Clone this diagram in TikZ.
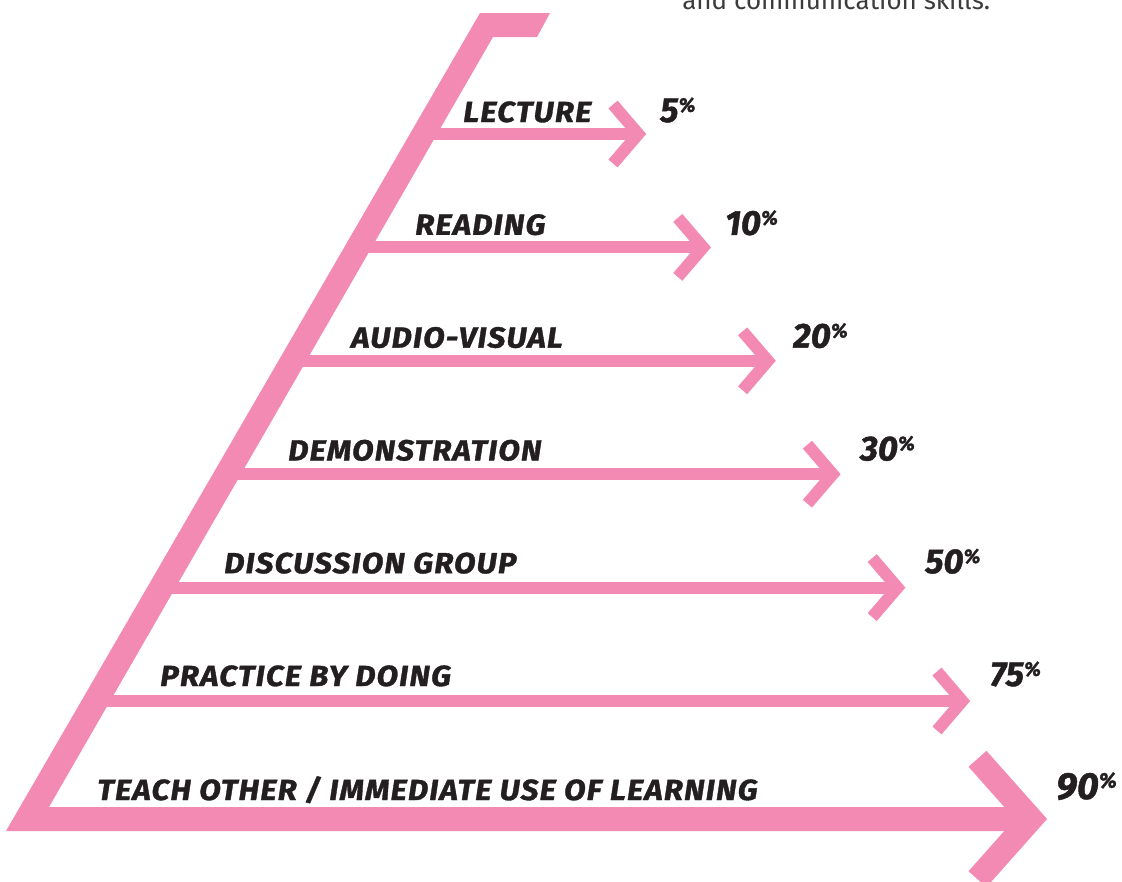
\documentclass[tikz,border=0pt]{standalone}
\usepackage{fontspec}
\setmainfont{Fira Sans}
\newfontfamily\labfont{Fira Sans}[LetterSpace=4,FakeStretch=1.08,FakeBold=1.2]
\newfontfamily\pctfont{Fira Sans}[FakeBold=1.2]
\definecolor{pk}{RGB}{243,138,179}
\definecolor{ink}{RGB}{35,31,32}
\definecolor{note}{RGB}{60,60,60}
\newcommand\pcnt[4]{{\fontsize{#2}{#2}\selectfont #1}\raisebox{#4}{\fontsize{#3}{#3}\selectfont\%}}
\tikzset{
  lab/.style={anchor=base west, inner sep=0pt, text=ink, font=\labfont\bfseries\itshape\fontsize{21.8pt}{22pt}\selectfont},
  pct/.style={anchor=base west, inner sep=0pt, text=ink, font=\pctfont\bfseries\itshape},
  shaft/.style={draw=pk, line width=9pt},
  chev/.style={draw=pk, line width=9pt, line join=miter},
  bigchev/.style={draw=pk, line width=18pt, line join=miter}
}
\begin{document}
\begin{tikzpicture}[x=0.75pt,y=-0.75pt]
\useasboundingbox (0,0) rectangle (1122,882);
\clip (0,0) rectangle (1122,882);
\fill[white] (0,0) rectangle (1122,882);
% partial note text at the top (cut by the page edge)
\node[anchor=base west, inner sep=0pt, text=note, font=\fontsize{19.5pt}{20pt}\selectfont] (note) at (682,9) {and communication skills.};
% main slanted bar with bottom shaft
\coordinate (bl) at (6,831);
\coordinate (bt) at (480,13);
\coordinate (bend) at (1031,819);
\fill[pk] (bl) -- (bt) -- (550,13) -- (537,37) -- (493,37) -- (49,807) -- (1031,807) -- (1031,831) -- cycle;
% bottom chevron
\coordinate (bu) at (977.5,758.8);
\coordinate (bd) at (977.5,879.2);
\draw[bigchev] (bu) -- (bend) -- (bd);
% thin arrows
\foreach \k in {0,...,5}{
  \pgfmathsetmacro{\yc}{134+113.4*\k}
  \pgfmathsetmacro{\xs}{493-0.577*(\yc-37)-10}
  \pgfmathsetmacro{\xt}{638.3+64.8*\k}
  \coordinate (s\k) at (\xs,\yc);
  \coordinate (t\k) at (\xt,\yc);
  \coordinate (u\k) at (\xt-25.3,\yc-29.5);
  \coordinate (d\k) at (\xt-25.3,\yc+29.5);
  \draw[shaft] (s\k) -- (t\k);
  \draw[chev] (u\k) -- (t\k) -- (d\k);
}
% labels
\foreach \k/\x/\t in {0/463/LECTURE,1/415/READING,2/351/AUDIO-VISUAL,3/288/DEMONSTRATION,4/224/DISCUSSION GROUP,5/160/PRACTICE BY DOING}{
  \pgfmathsetmacro{\yb}{122+112.8*\k}
  \node[lab] (l\k) at (\x,\yb) {\t};
}
\node[lab] (l6) at (97,800) {TEACH OTHER / IMMEDIATE USE OF LEARNING};
% percentages
\foreach \k/\x/\p in {0/660/5,1/725/10,2/793/20,3/860/30,4/925/50,5/990/75}{
  \pgfmathsetmacro{\yb}{122+112.8*\k}
  \node[pct] (p\k) at (\x,\yb) {\pcnt{\p}{26pt}{15pt}{7.6pt}};
}
\node[pct] (p6) at (1056,799) {\pcnt{90}{28.3pt}{16pt}{8.5pt}};
\end{tikzpicture}
\end{document}
